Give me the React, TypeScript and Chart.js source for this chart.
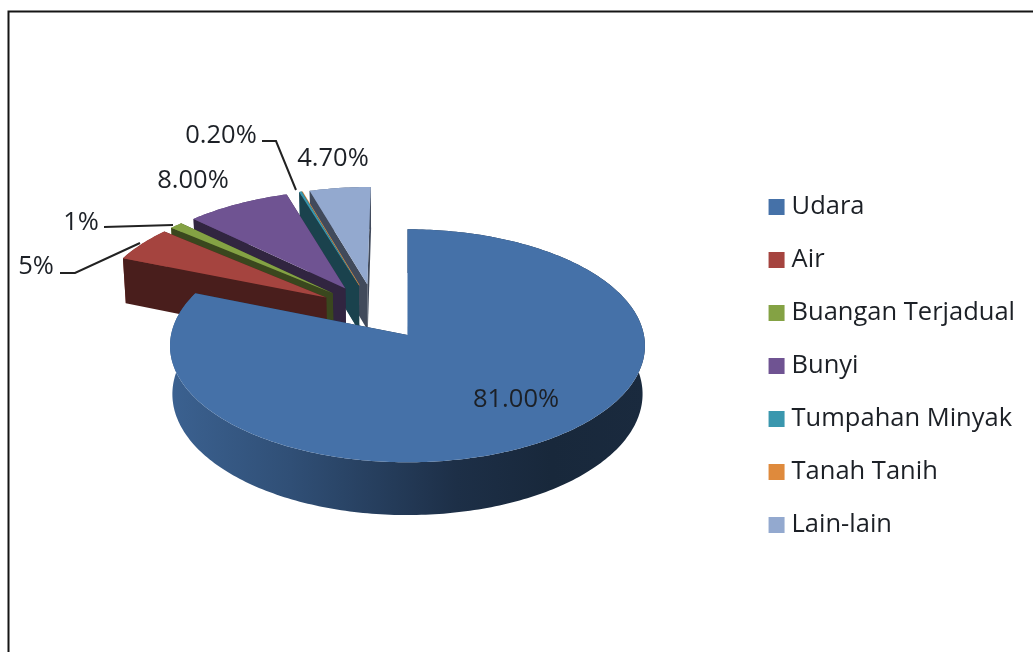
import React, { useEffect, useRef } from "react";
import { Chart, registerables } from "chart.js";

Chart.register(...registerables);

const categories = ["Udara", "Air", "Buangan Terjadual", "Bunyi", "Tumpahan Minyak", "Tanah Tanih", "Lain-lain"];
const shares = [81, 5, 1, 8, 0.2, 0, 4.7];
const shareLabels = ["81.00%", "5%", "1%", "8.00%", "0.20%", "", "4.70%"];
const sliceColors = ["#4571A8", "#A5443F", "#84A244", "#6F5392", "#3A97AE", "#DF8A3C", "#93A9CF"];

const FONT = "'Open Sans'";
const TEXT = "#1c2026";

// label anchors (centre of text) and leader polylines, by slice index
const labelAnchors: Record<number, [number, number]> = {
  0: [516, 400], 1: [36, 267], 2: [81, 223], 3: [193, 181], 4: [221, 136], 6: [333, 159],
};
const leaders: Record<number, [number, number][]> = {
  1: [[60, 273], [75, 273], [140, 243]],
  2: [[104, 227], [173, 225]],
  4: [[262, 141], [276, 141], [296, 190]],
};

// projection of the flat pie to the tilted view
const VIEW = { cx: 375, cy: 311.5, vx: 408, d: 11, a: 111.2, h: 47, shrink: 0.99 };

function project(px: number, pz: number, R: number, low: boolean) {
  const z = pz / R;
  const s = VIEW.d / (VIEW.d - z);
  let x = VIEW.vx + (VIEW.cx + px - VIEW.vx) * s;
  let y = VIEW.cy + VIEW.a * z * s;
  if (low) {
    x = VIEW.vx + (x - VIEW.vx) * VIEW.shrink;
    y += VIEW.h * s;
  }
  return [x, y];
}

function darken(hex: string, f: number) {
  const n = parseInt(hex.slice(1), 16);
  const c = [(n >> 16) & 255, (n >> 8) & 255, n & 255].map((v) => Math.round(v * f));
  return `rgb(${c[0]},${c[1]},${c[2]})`;
}

function fillPoly(ctx: CanvasRenderingContext2D, pts: number[][], fill: string | CanvasGradient) {
  ctx.beginPath();
  pts.forEach((p, i) => (i ? ctx.lineTo(p[0], p[1]) : ctx.moveTo(p[0], p[1])));
  ctx.closePath();
  ctx.fillStyle = fill;
  ctx.fill();
}

const tiltedPie = {
  id: "tiltedPie",
  beforeDraw(chart: any) {
    const ctx = chart.ctx;
    ctx.save();
    ctx.fillStyle = "#fff";
    ctx.fillRect(0, 0, chart.width, chart.height);
    ctx.strokeStyle = "#151515";
    ctx.lineWidth = 2;
    ctx.beginPath();
    ctx.moveTo(8.5, chart.height);
    ctx.lineTo(8.5, 11.5);
    ctx.lineTo(chart.width, 11.5);
    ctx.stroke();
    ctx.restore();
  },
  beforeDatasetDraw(chart: any) {
    const ctx: CanvasRenderingContext2D = chart.ctx;
    const arcs = chart.getDatasetMeta(0).data;
    const items = arcs.map((el: any, i: number) => {
      const mid = (el.startAngle + el.endAngle) / 2;
      const off = el.options.offset;
      return { el, i, ox: Math.cos(mid) * off, oz: Math.sin(mid) * off };
    });
    items.sort((a: any, b: any) => a.oz - b.oz);
    ctx.save();
    for (const { el, i, ox, oz } of items) {
      const R = el.outerRadius;
      const col = sliceColors[i];
      const steps = Math.max(1, Math.ceil(((el.endAngle - el.startAngle) * 180) / Math.PI));
      const rim: number[][] = [];
      for (let k = 0; k <= steps; k++) {
        const a = el.startAngle + ((el.endAngle - el.startAngle) * k) / steps;
        rim.push([ox + R * Math.cos(a), oz + R * Math.sin(a)]);
      }
      const top = (p: number[]) => project(p[0], p[1], R, false);
      const low = (p: number[]) => project(p[0], p[1], R, true);
      const apex = [ox, oz];
      const wall = darken(col, 0.44);

      if (el.endAngle - el.startAngle < 1e-6) {
        const a = top(apex);
        const b = top(rim[0]);
        ctx.strokeStyle = col;
        ctx.lineWidth = 1.2;
        ctx.beginPath();
        ctx.moveTo(a[0], a[1]);
        ctx.lineTo(b[0], b[1]);
        ctx.stroke();
        continue;
      }

      // outer wall
      const grad = ctx.createLinearGradient(172, 0, 646, 0);
      grad.addColorStop(0, darken(col, 0.86));
      grad.addColorStop(0.25, darken(col, 0.7));
      grad.addColorStop(0.6, darken(col, 0.42));
      grad.addColorStop(0.8, darken(col, 0.35));
      grad.addColorStop(1, darken(col, 0.37));
      fillPoly(ctx, [...rim.map(top), ...rim.slice().reverse().map(low)], grad);
      // radial walls
      fillPoly(ctx, [top(apex), top(rim[rim.length - 1]), low(rim[rim.length - 1]), low(apex)], wall);
      fillPoly(ctx, [top(apex), top(rim[0]), low(rim[0]), low(apex)], wall);
      // top face
      fillPoly(ctx, [top(apex), ...rim.map(top)], col);
    }
    ctx.restore();
    return false;
  },
  afterDatasetsDraw(chart: any) {
    const ctx: CanvasRenderingContext2D = chart.ctx;
    ctx.save();
    ctx.strokeStyle = "#222";
    ctx.lineWidth = 2;
    Object.values(leaders).forEach((pts) => {
      ctx.beginPath();
      pts.forEach((p, i) => (i ? ctx.lineTo(p[0], p[1]) : ctx.moveTo(p[0], p[1])));
      ctx.stroke();
    });
    ctx.font = `25.5px ${FONT}`;
    ctx.fillStyle = TEXT;
    ctx.textAlign = "center";
    ctx.textBaseline = "middle";
    shareLabels.forEach((t, i) => {
      if (t) ctx.fillText(t, labelAnchors[i][0], labelAnchors[i][1]);
    });
    ctx.restore();
  },
};

export default function App() {
  const ref = useRef<HTMLCanvasElement>(null);
  useEffect(() => {
    document.body.style.margin = "0";
    const chart = new Chart(ref.current as HTMLCanvasElement, {
      type: "pie",
      data: {
        labels: categories,
        datasets: [{ data: shares, backgroundColor: sliceColors, borderWidth: 0, offset: 58, hoverOffset: 0 }],
      },
      plugins: [tiltedPie],
      options: {
        animation: false,
        responsive: false,
        radius: 232,
        layout: { padding: { top: 80, right: 8 } },
        plugins: {
          tooltip: { enabled: false },
          legend: {
            position: "right",
            align: "center",
            labels: {
              boxWidth: 4.5,
              boxHeight: 4.5,
              padding: 27.5,
              color: TEXT,
              font: { family: "Open Sans", size: 25.5 },
              generateLabels(c: any) {
                return Chart.overrides.pie.plugins.legend.labels.generateLabels(c).map((it: any) => ({
                  ...it,
                  lineWidth: 11.5,
                  strokeStyle: it.fillStyle,
                }));
              },
            },
          },
        },
      },
    } as any);
    return () => chart.destroy();
  }, []);
  return <canvas ref={ref} width={1033} height={652} style={{ display: "block" }} />;
}
